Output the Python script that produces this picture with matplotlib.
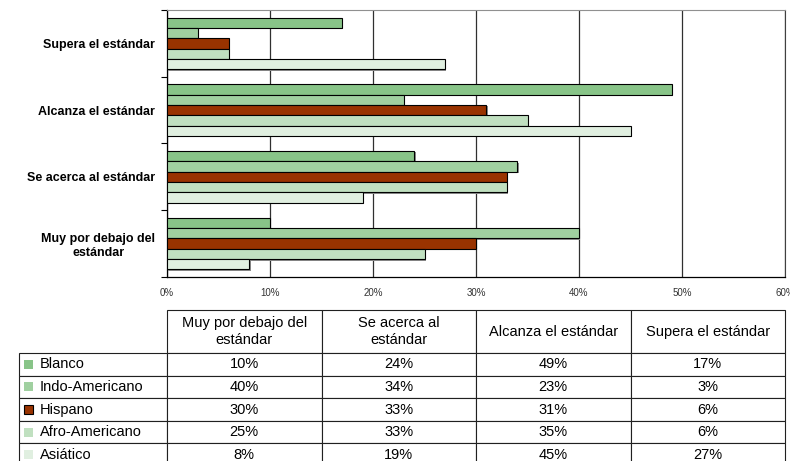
import numpy as np
import matplotlib.pyplot as plt
import matplotlib.patheffects as pe
from matplotlib.patches import Rectangle

plt.rcParams['font.family'] = ['Liberation Sans', 'DejaVu Sans']

# niveles de desempeño (de abajo hacia arriba en el gráfico)
niveles = ['Muy por debajo del\nestándar', 'Se acerca al\nestándar',
           'Alcanza el estándar', 'Supera el estándar']
etiquetas_eje = ['Muy por debajo del\nestándar', 'Se acerca al estándar',
                 'Alcanza el estándar', 'Supera el estándar']
grupos = ['Blanco', 'Indo-Americano', 'Hispano', 'Afro-Americano', 'Asiático']

# porcentajes por grupo, en el orden de niveles
blanco = [10, 24, 49, 17]
indo_americano = [40, 34, 23, 3]
hispano = [30, 33, 31, 6]
afro_americano = [25, 33, 35, 6]
asiatico = [8, 19, 45, 27]

colores = ['#88c488', '#a0d0a0', '#993300', '#c0e0c0', '#e0efe0']
bordes_clave = ['none', 'none', 'black', 'none', 'none']
ticks_x = [0, 10, 20, 30, 40, 50, 60]

series = [blanco, indo_americano, hispano, afro_americano, asiatico]

W, H = 790, 461
fig = plt.figure(figsize=(W / 100, H / 100), dpi=100)

# --- gráfico de barras ---
ax = fig.add_axes([167 / W, 1 - 277 / H, (785 - 167) / W, (277 - 10) / H])
y = np.arange(len(niveles))
alto = 0.155
sombra = [pe.SimplePatchShadow(offset=(1, -1), shadow_rgbFace='#8c8c8c', alpha=1),
          pe.Normal()]
for i, (vals, color) in enumerate(zip(series, colores)):
    ax.barh(y + (2 - i) * alto, vals, height=alto, color=color,
            edgecolor='black', linewidth=0.8, zorder=3, path_effects=sombra)

ax.set_xlim(0, 60)
ax.set_ylim(-0.5, len(niveles) - 0.5)
ax.set_xticks(ticks_x)
ax.set_xticklabels([f'{t}%' for t in ticks_x])
ax.tick_params(axis='x', length=0, labelsize=7, labelcolor='#333333', pad=8)

ax.set_yticks(np.arange(-0.5, len(niveles)), labels=[])
ax.set_yticks(y, labels=etiquetas_eje, minor=True)
ax.tick_params(axis='y', which='major', length=4, width=0.8, direction='out')
ax.tick_params(axis='y', which='minor', length=0, pad=8.5, labelsize=9)
for lab in ax.get_yticklabels(minor=True):
    lab.set_fontweight('bold')
    lab.set_multialignment('center')

ax.xaxis.grid(True, color='#303030', linewidth=0.9)
ax.set_axisbelow(True)
ax.spines['top'].set_color('#909090')
ax.spines['right'].set_color('#404040')
for s in ['left', 'bottom']:
    ax.spines[s].set_color('black')
    ax.spines[s].set_linewidth(0.9)

# --- tabla de datos ---
tax = fig.add_axes([0, 0, 1, 1])
tax.axis('off')
tax.set_xlim(0, W)
tax.set_ylim(H, 0)

x0, y_top = 19, 310
anchos = [148] + [154.5] * len(niveles)
altos = [43] + [22.6] * len(grupos)
alto_total = sum(altos)

filas = [[''] + niveles]
for g, vals in zip(grupos, series):
    filas.append([g] + [f'{v}%' for v in vals])

tabla = tax.table(cellText=filas, colWidths=anchos, cellLoc='center',
                  bbox=[x0 / W, 1 - (y_top + alto_total) / H,
                        sum(anchos) / W, alto_total / H])
tabla.auto_set_font_size(False)
for (r, c), celda in tabla.get_celld().items():
    celda.set_height(altos[r])
    celda.set_linewidth(0.8)
    celda.set_edgecolor('#202020')
    celda.get_text().set_fontsize(10.5)
    if c == 0:
        celda.get_text().set_horizontalalignment('left')
        celda.PAD = 0.142
tabla[(0, 0)].visible_edges = ''

# claves de color junto a cada grupo
yc = y_top + altos[0]
for g, color, borde, a in zip(grupos, colores, bordes_clave, altos[1:]):
    tax.add_patch(Rectangle((24, yc + a / 2 - 4.5), 9, 9, facecolor=color,
                            edgecolor=borde, linewidth=0.8, zorder=5))
    yc += a

fig.savefig('out.png', dpi=100)
